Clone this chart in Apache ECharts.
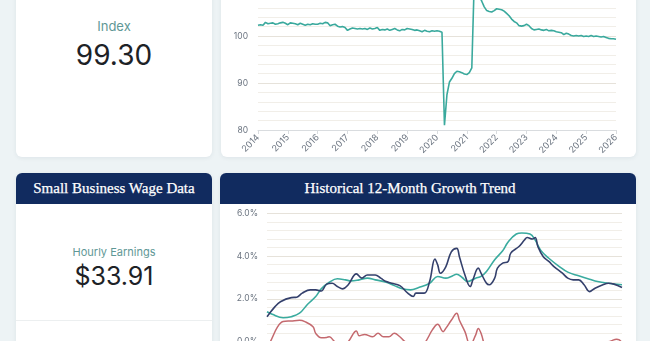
<!DOCTYPE html>
<html><head><meta charset="utf-8">
<script src="https://cdn.jsdelivr.net/npm/echarts@6/dist/echarts.min.js"></script>
<style>
html,body{margin:0;padding:0;width:650px;height:341px;overflow:hidden;background:#edf3f5;font-family:Inter,"Liberation Sans",sans-serif;}
.card{position:absolute;background:#fff;border-radius:6px;box-shadow:0 1px 4px rgba(40,70,90,0.08);}
.hdr{position:absolute;background:#112b5f;color:#fff;border-radius:6px 6px 0 0;font-family:"Liberation Serif",serif;font-size:15px;display:flex;align-items:center;justify-content:center;-webkit-text-stroke:0.25px #fff;box-sizing:border-box;}
.lbl{position:absolute;text-align:center;color:#5f9896;}
.val{position:absolute;text-align:center;color:#1d2226;}
#c1,#c2{position:absolute;}
</style></head><body>
<div class="card" style="left:16px;top:-20px;width:196px;height:177px"></div>
<div class="lbl" style="left:16px;width:196px;top:18px;font-size:13px;line-height:16px">Index</div>
<div class="val" style="left:16px;width:196px;top:38px;font-size:28px;line-height:34px">99.30</div>
<div class="card" style="left:221px;top:-20px;width:415px;height:177px"></div>
<div id="c1" style="left:221px;top:-80px;width:415px;height:237px"></div>
<div class="card" style="left:16px;top:173px;width:196px;height:200px"></div>
<div class="hdr" style="left:16px;top:173px;width:196px;height:31px">Small Business Wage Data</div>
<div class="lbl" style="left:16px;width:196px;top:245px;font-size:11px;line-height:14px">Hourly Earnings</div>
<div class="val" style="left:16px;width:196px;top:261px;font-size:25px;line-height:30px">$33.91</div>
<div style="position:absolute;left:16px;width:196px;top:320px;height:1px;background:#eceff0"></div>
<div class="card" style="left:220px;top:173px;width:416px;height:200px"></div>
<div class="hdr" style="left:220px;top:173px;width:416px;height:31px;padding-right:36px">Historical 12-Month Growth Trend</div>
<div id="c2" style="left:220px;top:204px;width:416px;height:200px"></div>
<script>
// ---- Data ----
const indexStartYear = 2014;
const indexMonthly = [
  102.3,102.4,102.3,102.9,102.6,102.7,102.8,102.5,102.6,102.8,102.9,102.7,
  102.4,102.8,102.7,102.6,102.4,102.7,102.5,102.3,102.5,102.4,102.6,102.5,
  102.5,102.7,102.6,102.9,102.8,102.2,102.4,102.5,102.1,101.9,102.0,101.8,
  101.2,101.5,101.7,101.6,101.5,101.6,101.5,101.6,101.4,101.7,101.5,101.6,
  101.8,101.2,101.4,101.3,101.5,101.2,101.4,101.6,101.3,101.1,101.4,101.3,
  101.6,101.5,101.4,101.2,101.3,101.1,100.9,101.2,101.0,100.9,101.1,101.0,
  101.1,101.0,100.8,81.0,87.5,90.2,91.0,92.0,92.5,92.4,92.2,91.9,
  91.8,92.2,93.2,112.0,110.0,108.5,107.4,106.2,105.4,105.2,105.1,105.4,
  105.8,105.7,105.6,105.3,104.8,104.3,103.6,103.1,102.8,102.2,102.1,102.2,
  102.5,102.2,101.6,101.3,101.4,101.5,101.3,101.2,101.4,101.1,101.2,101.1,
  100.9,100.8,100.7,100.3,100.6,100.4,100.1,100.0,100.1,100.0,100.1,99.9,
  100.0,99.9,100.1,99.9,100.0,99.9,99.8,99.9,99.7,99.5,99.4,99.4,
  99.3
];
const indexYearTicks = [2014,2015,2016,2017,2018,2019,2020,2021,2022,2023,2024,2025,2026];
const indexYTicks = [80, 90, 100, 110, 120];

const growthNavy = [
  ['2015-01',1.17],['2015-04',1.64],['2015-06',1.87],['2015-10',2.06],['2015-12',2.08],
  ['2016-02',2.27],['2016-05',2.42],['2016-07',2.42],['2016-09',2.37],['2016-11',2.69],
  ['2017-01',2.73],['2017-03',2.58],['2017-05',2.47],['2017-07',2.66],['2017-10',3.17],
  ['2017-12',2.97],['2018-02',3.12],['2018-05',3.12],['2018-07',2.97],['2018-09',2.81],
  ['2018-11',2.73],['2019-02',2.62],['2019-05',2.27],['2019-07',2.11],['2019-08',2.27],
  ['2019-11',2.27],['2020-01',2.81],['2020-03',3.86],['2020-04',3.59],['2020-05',3.2],
  ['2020-07',3.5],['2020-09',4.2],['2020-11',4.36],['2020-12',3.97],['2021-02',3.12],
  ['2021-04',2.58],['2021-05',2.89],['2021-07',3.44],['2021-08',3.2],['2021-10',2.73],
  ['2021-11',2.66],['2022-01',2.97],['2022-02',3.44],['2022-04',3.67],['2022-06',3.75],
  ['2022-07',4.14],['2022-10',4.45],['2022-12',4.75],['2023-01',4.87],['2023-03',4.8],
  ['2023-04',4.87],['2023-05',4.45],['2023-07',3.97],['2023-09',3.75],['2023-11',3.5],
  ['2024-02',3.2],['2024-04',2.97],['2024-06',2.89],['2024-08',2.89],['2024-10',2.66],
  ['2024-12',2.34],['2025-02',2.5],['2025-05',2.66],['2025-07',2.73],['2025-09',2.69],
  ['2025-12',2.53]
];
const growthTeal = [
  ['2015-01',1.4],['2015-03',1.28],['2015-07',1.12],['2015-10',1.17],['2016-01',1.33],
  ['2016-04',1.75],['2016-07',2.11],['2016-09',2.47],['2016-12',2.78],['2017-03',2.94],
  ['2017-06',2.89],['2017-08',2.84],['2017-11',2.89],['2018-02',2.97],['2018-05',2.89],
  ['2018-09',2.78],['2018-12',2.62],['2019-03',2.47],['2019-06',2.42],['2019-09',2.53],
  ['2020-01',2.73],['2020-04',3.05],['2020-07',2.97],['2020-09',3.05],['2020-11',3.15],
  ['2021-01',3.0],['2021-03',2.81],['2021-06',2.97],['2021-08',3.05],['2021-10',3.28],
  ['2022-01',3.83],['2022-04',4.25],['2022-06',4.66],['2022-09',5.03],['2022-11',5.08],
  ['2023-02',5.03],['2023-04',4.75],['2023-06',4.28],['2023-09',3.9],['2024-01',3.5],
  ['2024-04',3.25],['2024-08',3.08],['2024-12',2.92],['2025-03',2.81],['2025-07',2.73],
  ['2025-12',2.66]
];
const growthRed = [
  ['2015-01',-0.2],['2015-02',-0.05],['2015-05',0.7],['2015-07',0.94],['2015-10',0.97],
  ['2016-01',1.0],['2016-03',0.94],['2016-06',0.7],['2016-07',0.39],['2016-09',0.19],
  ['2016-11',0.2],['2016-12',0.23],['2017-02',0.0],['2017-05',-0.15],['2017-07',0.0],
  ['2017-10',0.5],['2017-11',0.28],['2018-01',0.34],['2018-04',0.23],['2018-06',0.39],
  ['2018-08',0.23],['2018-10',0.23],['2018-12',0.39],['2019-02',0.23],['2019-04',0.0],
  ['2019-08',-0.23],['2019-11',-0.08],['2020-02',0.55],['2020-04',0.81],['2020-06',0.47],
  ['2020-07',0.62],['2020-09',1.0],['2020-11',1.33],['2020-12',1.0],['2021-02',0.47],
  ['2021-04',-0.15],['2021-06',0.31],['2021-07',0.62],['2021-08',0.39],['2021-10',-0.4],
  ['2022-01',-0.85],['2022-04',-0.55],['2022-07',-0.5],['2022-10',-0.55],['2023-01',-0.2],
  ['2023-04',-0.05],['2023-07',-0.3],['2023-11',-0.4],['2024-03',-0.3],['2024-08',-0.2],
  ['2025-01',-0.4],['2025-05',-0.1],['2025-08',0.04],['2025-10',0.12],['2025-11',0.08],
  ['2025-12',-0.05]
];
const growthYTicks = [-2, 0, 2, 4, 6];

// ---- Charts ----
const axisLabelColor = '#6b7480';
const c1 = echarts.init(document.getElementById('c1'), null, {renderer:'canvas'});
c1.setOption({
  animation:false,
  grid:{left:37,right:20,top:22,bottom:27,outerBoundsMode:'none'},
  xAxis:{type:'value',min:indexYearTicks[0],max:indexYearTicks[indexYearTicks.length-1],interval:1,
    axisLine:{lineStyle:{color:'#d9dcdf'}},axisTick:{show:true,length:4,lineStyle:{color:'#d9dcdf'}},
    splitLine:{show:false},
    axisLabel:{rotate:45,fontSize:9,color:axisLabelColor,margin:6,fontFamily:'Inter',formatter:v=>String(v)}},
  yAxis:{type:'value',min:indexYTicks[0],max:indexYTicks[indexYTicks.length-1],interval:10,
    axisLine:{show:false},axisTick:{show:false},
    axisLabel:{fontSize:8.5,color:axisLabelColor,margin:10,fontFamily:'Inter'},
    splitLine:{lineStyle:{color:'#e6e2da'}},
    minorTick:{show:false,splitNumber:5},
    minorSplitLine:{show:true,lineStyle:{color:'#f1eee8'}}},
  series:[{type:'line',showSymbol:false,
    data:indexMonthly.map((v,i)=>[indexStartYear+i/12,v]),
    lineStyle:{width:1.6,color:'#3aa99d'}}]
});

const c2 = echarts.init(document.getElementById('c2'), null, {renderer:'canvas'});
c2.setOption({
  animation:false,
  grid:{left:47,right:14,top:9.3,bottom:19.5,outerBoundsMode:'none'},
  xAxis:{type:'time',min:'2015-01',max:'2025-12',show:false},
  yAxis:{type:'value',min:growthYTicks[0],max:growthYTicks[growthYTicks.length-1],interval:2,
    axisLine:{show:false},axisTick:{show:false},
    axisLabel:{fontSize:8.5,color:axisLabelColor,margin:9,fontFamily:'Inter',formatter:v=>v.toFixed(1)+'%'},
    splitLine:{lineStyle:{color:'#e6e2da'}},
    minorTick:{show:false,splitNumber:5},
    minorSplitLine:{show:true,lineStyle:{color:'#f1eee8'}}},
  series:[
    {type:'line',showSymbol:false,smooth:0.4,data:growthRed,lineStyle:{width:1.5,color:'#c4696e'}},
    {type:'line',showSymbol:false,smooth:0.4,data:growthTeal,lineStyle:{width:1.6,color:'#3aab9f'}},
    {type:'line',showSymbol:false,smooth:0.4,data:growthNavy,lineStyle:{width:1.6,color:'#34406c'}}
  ]
});
</script>
</body></html>
